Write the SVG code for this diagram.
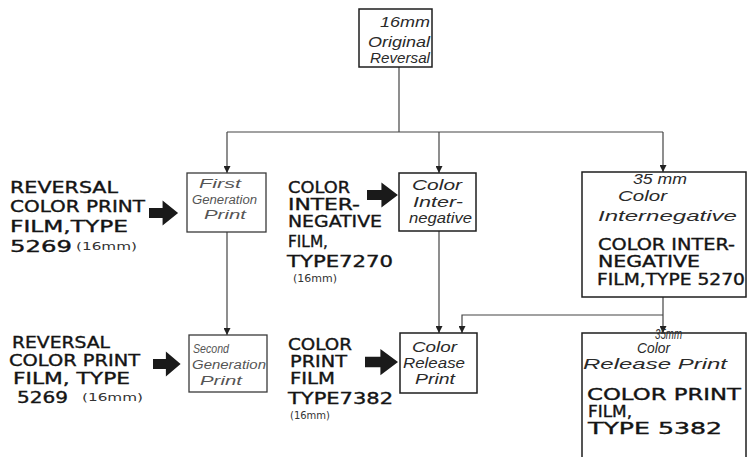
<svg xmlns="http://www.w3.org/2000/svg" width="747" height="457" viewBox="0 0 747 457">
  <style>
    .box { fill: #fff; stroke: #1e1e1e; stroke-width: 1.5; }
    .box.lite { stroke: #3a3a3a; stroke-width: 1.3; }
    .cap { font-family: "DejaVu Sans", "Liberation Sans", sans-serif; font-size: 15px; fill: #141414; stroke: #141414; stroke-width: 0.35; }
    .mm { font-family: "DejaVu Sans", "Liberation Sans", sans-serif; font-size: 11px; fill: #333; }
    .hand { font-family: "Liberation Sans", Arial, sans-serif; font-style: italic; font-size: 14px; fill: #2a2a2a; }
    .hand.lite { fill: #555; font-size: 12px; }
    .link { fill: none; stroke: #444; stroke-width: 1.2; }
    .fat { fill: #1a1a1a; }
  </style>
  <defs>
    <marker id="tip" markerUnits="userSpaceOnUse" markerWidth="7" markerHeight="7" refX="7" refY="3.5" orient="auto">
      <path d="M0,0 L7,3.5 L0,7 Z" fill="#222"/>
    </marker>
    <!-- heavy feed arrow, 30 wide, centred on y=0 -->
    <path id="feed" d="M0,-5 H14 V-12.5 L30,0 L14,12.5 V5 H0 Z"/>
  </defs>

  <!-- connectors -->
  <g id="connectors">
    <path class="link" d="M399,67 V132"/>
    <path class="link" d="M227,132 H663"/>
    <path class="link" d="M227,132 V173" marker-end="url(#tip)"/>
    <path class="link" d="M439,132 V173" marker-end="url(#tip)"/>
    <path class="link" d="M663,132 V172" marker-end="url(#tip)"/>
    <path class="link" d="M227,232 V335" marker-end="url(#tip)"/>
    <path class="link" d="M439,231 V333" marker-end="url(#tip)"/>
    <path class="link" d="M663,297 V333" marker-end="url(#tip)"/>
    <path class="link" d="M663,315 H462 V333" marker-end="url(#tip)"/>
  </g>

  <!-- film-stock feed arrows -->
  <g id="feeds" class="fat">
    <use href="#feed" transform="translate(149,213) scale(0.97,1)"/>
    <use href="#feed" transform="translate(367,195) scale(1.03,1)"/>
    <use href="#feed" transform="translate(153,364) scale(0.92,1)"/>
    <use href="#feed" transform="translate(365,362) scale(1.1,1.05)"/>
  </g>

  <g id="original">
    <rect class="box" x="359" y="9" width="73" height="58"/>
    <text class="hand" x="380" y="27" textLength="50" lengthAdjust="spacingAndGlyphs">16mm</text>
    <text class="hand" x="368" y="47" textLength="62" lengthAdjust="spacingAndGlyphs">Original</text>
    <text class="hand" x="370" y="63" font-size="12" textLength="60" lengthAdjust="spacingAndGlyphs">Reversal</text>
  </g>

  <g id="first-generation">
    <rect class="box lite" x="187" y="173" width="79" height="59"/>
    <text class="hand lite" x="199" y="188" font-size="13" textLength="42" lengthAdjust="spacingAndGlyphs">First</text>
    <text class="hand lite" x="192" y="204" textLength="65" lengthAdjust="spacingAndGlyphs">Generation</text>
    <text class="hand lite" x="204" y="219" font-size="13" textLength="42" lengthAdjust="spacingAndGlyphs">Print</text>
  </g>

  <g id="color-internegative">
    <rect class="box" x="399" y="173" width="77" height="58"/>
    <text class="hand" x="412" y="190" textLength="50" lengthAdjust="spacingAndGlyphs">Color</text>
    <text class="hand" x="413" y="207" textLength="50" lengthAdjust="spacingAndGlyphs">Inter-</text>
    <text class="hand" x="409" y="223" textLength="63" lengthAdjust="spacingAndGlyphs">negative</text>
  </g>

  <g id="internegative-35mm">
    <rect class="box" x="582" y="172" width="164" height="125"/>
    <text class="hand" x="633" y="184" font-size="12" textLength="54" lengthAdjust="spacingAndGlyphs">35 mm</text>
    <text class="hand" x="618" y="201" font-size="17" textLength="49" lengthAdjust="spacingAndGlyphs">Color</text>
    <text class="hand" x="598" y="221" font-size="17" textLength="139" lengthAdjust="spacingAndGlyphs">Internegative</text>
    <text class="cap" x="598" y="250" textLength="137" lengthAdjust="spacingAndGlyphs">COLOR INTER-</text>
    <text class="cap" x="598" y="267" textLength="102" lengthAdjust="spacingAndGlyphs">NEGATIVE</text>
    <text class="cap" x="597" y="285" textLength="148" lengthAdjust="spacingAndGlyphs">FILM,TYPE 5270</text>
  </g>

  <g id="second-generation">
    <rect class="box lite" x="189" y="335" width="78" height="57"/>
    <text class="hand lite" x="193" y="353" textLength="36" lengthAdjust="spacingAndGlyphs">Second</text>
    <text class="hand lite" x="192" y="369" font-size="11" textLength="74" lengthAdjust="spacingAndGlyphs">Generation</text>
    <text class="hand lite" x="200" y="385" textLength="42" lengthAdjust="spacingAndGlyphs">Print</text>
  </g>

  <g id="color-release">
    <rect class="box" x="400" y="333" width="77" height="60"/>
    <text class="hand" x="412" y="352" textLength="45" lengthAdjust="spacingAndGlyphs">Color</text>
    <text class="hand" x="403" y="368" textLength="62" lengthAdjust="spacingAndGlyphs">Release</text>
    <text class="hand" x="415" y="384" textLength="40" lengthAdjust="spacingAndGlyphs">Print</text>
  </g>

  <g id="release-35mm">
    <rect class="box" x="582" y="333" width="164" height="135"/>
    <text class="hand" x="655" y="339" font-size="8" textLength="27" lengthAdjust="spacingAndGlyphs">35mm</text>
    <text class="hand" x="637" y="353" font-size="13" textLength="33" lengthAdjust="spacingAndGlyphs">Color</text>
    <text class="hand" x="583" y="369" font-size="15" textLength="144" lengthAdjust="spacingAndGlyphs">Release Print</text>
    <text class="cap" x="587" y="400" textLength="154" lengthAdjust="spacingAndGlyphs">COLOR PRINT</text>
    <text class="cap" x="588" y="417" textLength="44" lengthAdjust="spacingAndGlyphs">FILM,</text>
    <text class="cap" x="588" y="434" textLength="134" lengthAdjust="spacingAndGlyphs">TYPE 5382</text>
  </g>

  <!-- film stock labels -->
  <g id="stock-reversal-1">
    <text class="cap" x="10" y="193" textLength="108" lengthAdjust="spacingAndGlyphs">REVERSAL</text>
    <text class="cap" x="10" y="212" textLength="135" lengthAdjust="spacingAndGlyphs">COLOR PRINT</text>
    <text class="cap" x="10" y="232" textLength="118" lengthAdjust="spacingAndGlyphs">FILM,TYPE</text>
    <text class="cap" x="10" y="252" font-size="17" textLength="62" lengthAdjust="spacingAndGlyphs">5269</text>
    <text class="mm" x="76" y="250" textLength="61" lengthAdjust="spacingAndGlyphs">(16mm)</text>
  </g>

  <g id="stock-internegative-7270">
    <text class="cap" x="288" y="193" textLength="62" lengthAdjust="spacingAndGlyphs">COLOR</text>
    <text class="cap" x="288" y="210" textLength="72" lengthAdjust="spacingAndGlyphs">INTER-</text>
    <text class="cap" x="288" y="227" textLength="94" lengthAdjust="spacingAndGlyphs">NEGATIVE</text>
    <text class="cap" x="288" y="247" textLength="40" lengthAdjust="spacingAndGlyphs">FILM,</text>
    <text class="cap" x="287" y="267" textLength="106" lengthAdjust="spacingAndGlyphs">TYPE7270</text>
    <text class="mm" x="293" y="282" font-size="9" textLength="44" lengthAdjust="spacingAndGlyphs">(16mm)</text>
  </g>

  <g id="stock-reversal-2">
    <text class="cap" x="12" y="348" textLength="98" lengthAdjust="spacingAndGlyphs">REVERSAL</text>
    <text class="cap" x="9" y="366" textLength="131" lengthAdjust="spacingAndGlyphs">COLOR PRINT</text>
    <text class="cap" x="13" y="384" textLength="117" lengthAdjust="spacingAndGlyphs">FILM, TYPE</text>
    <text class="cap" x="17" y="403" textLength="51" lengthAdjust="spacingAndGlyphs">5269</text>
    <text class="mm" x="82" y="401" textLength="61" lengthAdjust="spacingAndGlyphs">(16mm)</text>
  </g>

  <g id="stock-print-7382">
    <text class="cap" x="288" y="350" textLength="64" lengthAdjust="spacingAndGlyphs">COLOR</text>
    <text class="cap" x="290" y="367" textLength="57" lengthAdjust="spacingAndGlyphs">PRINT</text>
    <text class="cap" x="290" y="384" textLength="45" lengthAdjust="spacingAndGlyphs">FILM</text>
    <text class="cap" x="288" y="404" font-size="16" textLength="105" lengthAdjust="spacingAndGlyphs">TYPE7382</text>
    <text class="mm" x="290" y="419" font-size="9" textLength="40" lengthAdjust="spacingAndGlyphs">(16mm)</text>
  </g>
</svg>
